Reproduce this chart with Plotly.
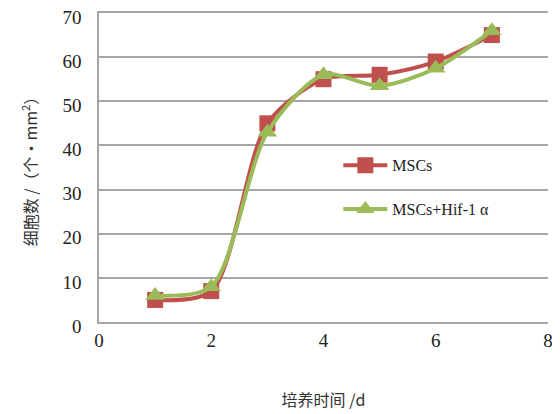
import plotly.graph_objects as go

days = [1, 2, 3, 4, 5, 6, 7]
mscs = [5, 7, 45, 55, 56, 59, 65]
mscs_hif = [6, 8, 43, 56, 53.5, 57.5, 66]
x_ticks = [0, 2, 4, 6, 8]
y_ticks = [0, 10, 20, 30, 40, 50, 60, 70]

red = "#c0504d"
green = "#9bbb59"
grid = "#a6a6a6"
serif = "Times New Roman"
cjk = "Noto Sans CJK SC"

fig = go.Figure()
fig.add_trace(go.Scatter(
    x=days, y=mscs, name="MSCs", mode="lines+markers",
    line=dict(color=red, width=4, shape="spline", smoothing=0.8),
    marker=dict(symbol="square", size=16, color=red),
    legendgroup="a",
))
fig.add_trace(go.Scatter(
    x=days, y=mscs_hif, name="MSCs+Hif-1 α", mode="lines+markers",
    line=dict(color=green, width=4, shape="spline", smoothing=0.8),
    marker=dict(symbol="triangle-up", size=17, color=green),
    legendgroup="b",
))

# page body has an 8px margin: figure is sized/offset to compensate
fig.update_layout(
    width=552, height=406,
    margin=dict(l=91, r=12, t=5, b=92),
    paper_bgcolor="white", plot_bgcolor="white",
    font=dict(family=serif, size=16, color="#222"),
    legend=dict(
        x=0.533, y=0.562, xanchor="left", yanchor="top",
        bgcolor="rgba(0,0,0,0)", font=dict(family=serif, size=16, color="#222"),
        tracegroupgap=20, itemwidth=44,
    ),
    xaxis=dict(
        range=[0, 8], tickvals=x_ticks, showgrid=False, zeroline=False,
        showline=True, mirror=True, linecolor=grid, linewidth=1.5,
        ticks="", ticklen=0, automargin=False,
        ticklabeloverflow="allow",
        title=dict(text="培养时间 /d", standoff=45,
                   font=dict(family=cjk, size=16, color="#333")),
        tickfont=dict(family=serif, size=19, color="#222"),
    ),
    yaxis=dict(
        range=[0, 70], tickvals=y_ticks, showgrid=True, gridcolor=grid,
        gridwidth=1.5, zeroline=False, showline=True, linecolor=grid,
        linewidth=1.5, ticks="", ticklabelstandoff=12, ticklabelshift=4,
        automargin=False, ticklabeloverflow="allow",
        title=dict(text="细胞数 /（个•mm<sup>2</sup>）", standoff=21,
                   font=dict(family=cjk, size=16, color="#333")),
        tickfont=dict(family=serif, size=19, color="#222"),
    ),
)
fig.write_html("out.html")
